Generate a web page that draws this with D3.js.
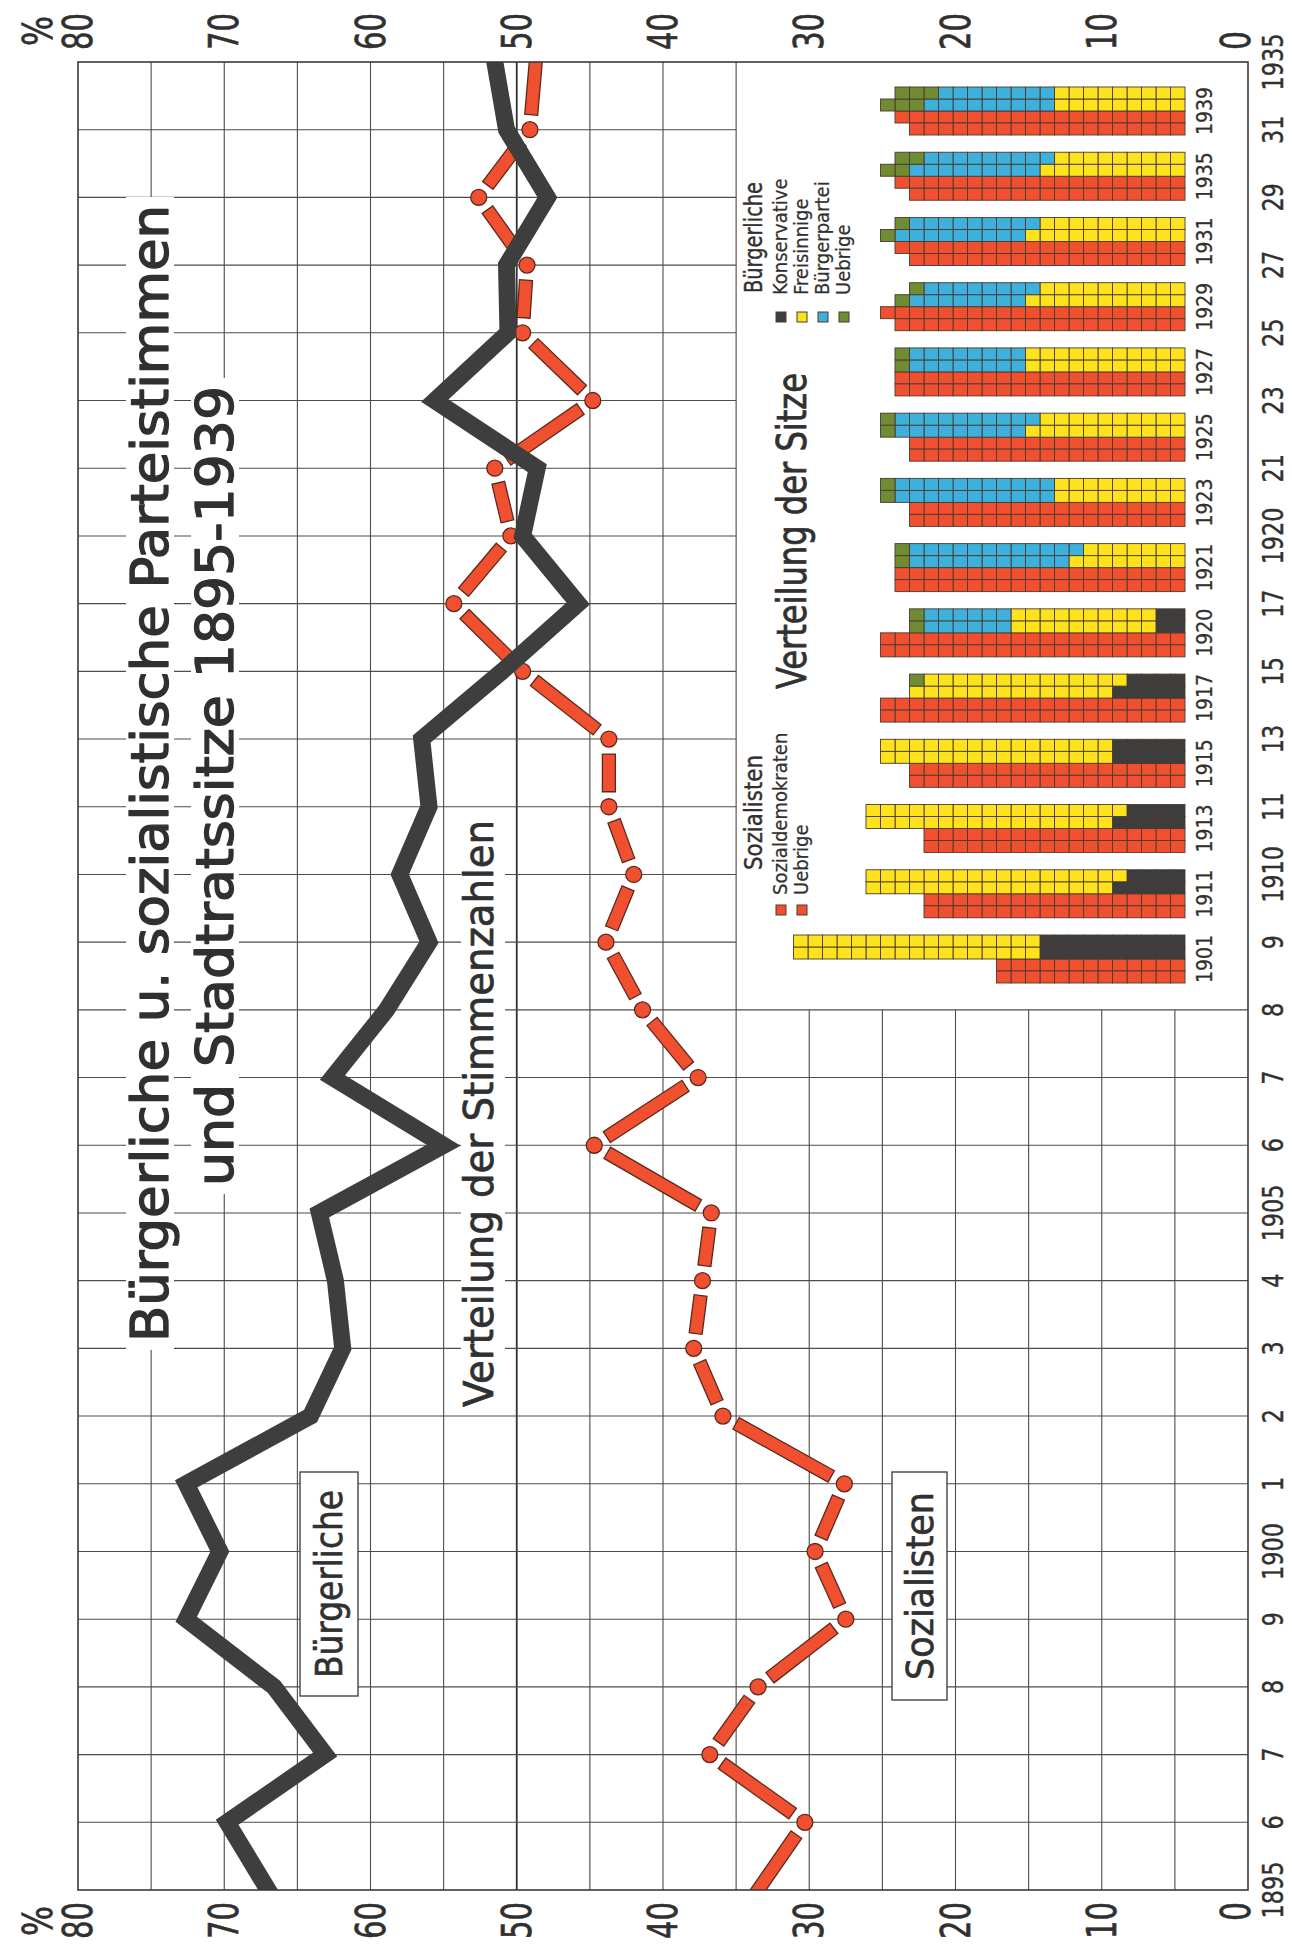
<!DOCTYPE html>
<html><head><meta charset="utf-8">
<script src="https://cdn.jsdelivr.net/npm/d3@7"></script>
<style>
html,body{margin:0;padding:0;background:#fff;}
svg{display:block;}
</style></head>
<body>
<svg id="chart" width="1292" height="1948"></svg>
<script>
// ---------- DATA ----------
const years = [1895,1896,1897,1898,1899,1900,1901,1902,1903,1904,1905,1906,1907,1908,1909,1910,1911,1913,1915,1917,1920,1921,1923,1925,1927,1929,1931,1935];
const yearLabels = ["1895","6","7","8","9","1900","1","2","3","4","1905","6","7","8","9","1910","11","13","15","17","1920","21","23","25","27","29","31","1935"];
const buergerlicheShare = [67.0,69.8,63.1,66.6,72.6,70.3,72.6,64.1,61.9,62.4,63.5,55.0,62.6,58.9,56.0,58.0,56.0,56.5,51.0,45.8,49.6,48.6,55.6,50.6,50.7,47.9,50.7,51.5];
const sozialistenShare = [33.5,30.3,36.8,33.5,27.5,29.6,27.6,35.9,37.9,37.3,36.7,44.7,37.6,41.4,43.9,42.0,43.7,43.7,49.6,54.3,50.4,51.5,44.8,49.6,49.3,52.6,49.1,48.7];
const percentTicks = [0,10,20,30,40,50,60,70,80];

const electionYears = [1901,1911,1913,1915,1917,1920,1921,1923,1925,1927,1929,1931,1935,1939];
const sozialistenSeats  = [26,36,36,38,42,42,40,38,38,40,41,39,39,39];
const konservativeSeats = [20, 9, 9,10, 9, 4, 0, 0, 0, 0, 0, 0, 0, 0];
const freisinnigeSeats  = [34,35,35,32,28,20,15,18,21,22,21,21,19,18];
const buergerparteiSeats= [ 0, 0, 0, 0, 0,12,23,22,19,16,16,18,18,17];
const uebrigeBSeats     = [ 0, 0, 0, 0, 1, 2, 2, 2, 2, 2, 2, 2, 4, 6];

const titleLines = ["Bürgerliche u. sozialistische Parteistimmen","und Stadtratssitze 1895-1939"];

// ---------- STYLE ----------
const FONT = "'DejaVu Sans Condensed','Liberation Sans Narrow','DejaVu Sans',sans-serif";
const INK = "#303030";
const C = {red:"#f0502f", yellow:"#fde21c", blue:"#3db1dc", green:"#6f8c33", kons:"#3d3d3d",
           cellStroke:"#4b3a30", line:"#3e3e3e", dashStroke:"#5c2a1c", grid:"#4f4b45"};

const svg = d3.select("#chart");
svg.append("rect").attr("width",1292).attr("height",1948).attr("fill","#fff");
// landscape drawing, rotated onto the portrait page
const g = svg.append("g").attr("transform","translate(0,1948) rotate(-90)");
g.style("font-family",FONT).style("font-stretch","condensed");

const x = d3.scalePoint().domain(years).range([58,1886]);
const y = d3.scaleLinear().domain([0,80]).range([1248,78]);
const X0 = x(years[0]), X1 = x(years[years.length-1]);

g.append("defs").append("clipPath").attr("id","plotClip")
  .append("rect").attr("x",X0).attr("y",y(80)).attr("width",X1-X0).attr("height",y(0)-y(80));

// ---------- GRID ----------
const grid = g.append("g").attr("stroke",C.grid).attr("stroke-width",1.1).attr("fill","none");
d3.range(5,80,5).forEach(v=>{
  grid.append("line").attr("x1",X0).attr("x2", v<35 ? x(1908) : X1)
    .attr("y1",y(v)).attr("y2",y(v))
    .attr("stroke-width", v===50 ? 1.8 : 1.1)
    .attr("stroke", v===50 ? "#333" : C.grid);
});
years.slice(1,-1).forEach(yr=>{
  grid.append("line").attr("x1",x(yr)).attr("x2",x(yr))
    .attr("y1",y(80)).attr("y2", yr>1908 ? y(35) : y(0));
});

// ---------- TEXT LABELS ----------
function label(txt,xx,yy,size,len,anchor,weight){
  const t = g.append("text").attr("x",xx).attr("y",yy).text(txt)
    .attr("font-size",size).attr("fill",INK).attr("text-anchor",anchor||"start");
  if(len) t.attr("textLength",len).attr("lengthAdjust","spacingAndGlyphs");
  if(weight) t.attr("stroke",INK).attr("stroke-width",weight).attr("stroke-linejoin","round");
  return t;
}
// white bands behind the title lines knock out the grid
[[606,168,1137],[762,233,800]].forEach(([tx,ty,tl])=>{
  g.append("rect").attr("x",tx-8).attr("y",ty-42).attr("width",tl+16).attr("height",48).attr("fill","#fff");
});
label(titleLines[0],606,168,52,1137,"start",1.3);
label(titleLines[1],762,233,52,800,"start",1.3);
g.append("rect").attr("x",533).attr("y",461).attr("width",603).attr("height",44).attr("fill","#fff");
label("Verteilung der Stimmenzahlen",541,493,40,587,"start",0.7);
label("Verteilung der Sitze",1259,806,40,316,"start",0.7);

// boxed series labels
[[ "Bürgerliche",252,300,224,58],[ "Sozialisten",248,892,228,55]].forEach(([t,bx,by,bw,bh])=>{
  g.append("rect").attr("x",bx).attr("y",by).attr("width",bw).attr("height",bh)
    .attr("fill","#fff").attr("stroke","#444").attr("stroke-width",1.4);
  label(t,bx+bw/2,by+bh/2+13,37,188,"middle",0.6);
});

// ---------- LINES ----------
const lines = g.append("g").attr("clip-path","url(#plotClip)");
const sozPts = years.map((yr,i)=>[x(yr),y(sozialistenShare[i])]);
function dashPoly(p0,p1,g0,g1,hw){
  const dx=p1[0]-p0[0], dy=p1[1]-p0[1], L=Math.hypot(dx,dy);
  const ux=dx/L, uy=dy/L, nx=-uy, ny=ux;
  const a=[p0[0]+ux*g0,p0[1]+uy*g0], b=[p1[0]-ux*g1,p1[1]-uy*g1];
  return [[a[0]+nx*hw,a[1]+ny*hw],[b[0]+nx*hw,b[1]+ny*hw],[b[0]-nx*hw,b[1]-ny*hw],[a[0]-nx*hw,a[1]-ny*hw]];
}
for(let i=0;i<sozPts.length-1;i++){
  const g0 = i===0 ? -14 : 15, g1 = i===sozPts.length-2 ? -14 : 15;
  lines.append("polygon").attr("points",dashPoly(sozPts[i],sozPts[i+1],g0,g1,6.5).map(p=>p.join(",")).join(" "))
    .attr("fill",C.red).attr("stroke",C.dashStroke).attr("stroke-width",1.3).attr("stroke-linejoin","miter");
}
sozPts.slice(1,-1).forEach(p=>{
  lines.append("circle").attr("cx",p[0]).attr("cy",p[1]).attr("r",8)
    .attr("fill",C.red).attr("stroke",C.dashStroke).attr("stroke-width",1.3);
});
const lineGen = d3.line().x((d,i)=>x(years[i])).y(d=>y(d));
lines.append("path").attr("d",lineGen(buergerlicheShare))
  .attr("fill","none").attr("stroke",C.line).attr("stroke-width",17)
  .attr("stroke-linejoin","miter").attr("stroke-miterlimit",10).attr("stroke-linecap","square");

// plot border
g.append("rect").attr("x",X0).attr("y",y(80)).attr("width",X1-X0).attr("height",y(0)-y(80))
  .attr("fill","none").attr("stroke","#3a3a3a").attr("stroke-width",1.6);

// ---------- AXIS LABELS ----------
percentTicks.forEach(v=>{
  const yy = v===0 ? y(0)+2 : y(v)+14;
  const len = String(v).length===1 ? 19 : 37;
  label(String(v),46,yy,41,len,"end",0.6);
  label(String(v),1898,yy,41,len,"start",0.6);
});
label("%",27,52,40,30,"middle",0.6);
label("%",1917,52,40,30,"middle",0.6);
years.forEach((yr,i)=>{
  label(yearLabels[i],x(yr),1283,29,yearLabels[i].length*14.2,"middle",0.4);
});

// ---------- SEAT BARS ----------
const xb = d3.scalePoint().domain(electionYears).range([989,1837]);
const col = d3.scaleLinear().domain([0,30]).range([1185,1185-30*14.5]);
const RW = 12;
const bars = g.append("g").attr("stroke",C.cellStroke).attr("stroke-width",0.9);
function cells(xc, side, parts){
  // side -1 = Sozialisten (left of centre), +1 = Bürgerliche (right of centre)
  let n = 0;
  parts.forEach(([count,color])=>{
    for(let s=0;s<count;s++,n++){
      const k = Math.floor(n/2), inner = n%2===0;
      const x0 = side<0 ? (inner ? xc-RW : xc-2*RW) : (inner ? xc : xc+RW);
      bars.append("rect").attr("x",x0).attr("y",col(k+1)).attr("width",RW).attr("height",col(k)-col(k+1))
        .attr("fill",color);
    }
  });
}
electionYears.forEach((yr,i)=>{
  const xc = xb(yr);
  cells(xc,-1,[[sozialistenSeats[i],C.red]]);
  cells(xc, 1,[[konservativeSeats[i],C.kons],[freisinnigeSeats[i],C.yellow],[buergerparteiSeats[i],C.blue],[uebrigeBSeats[i],C.green]]);
  label(String(yr),xc,1212,21,48,"middle",0.3);
});

// ---------- LEGENDS ----------
function legendItem(txt,sqX,txX,yy,color){
  g.append("rect").attr("x",sqX-5).attr("y",yy-11).attr("width",10).attr("height",10)
    .attr("fill",color).attr("stroke",C.cellStroke).attr("stroke-width",1);
  label(txt,txX,yy,20,null,"start",0.2);
}
label("Bürgerliche",1655,762,25,111,"start",0.4);
legendItem("Konservative",1631,1653,787,C.kons);
legendItem("Freisinnige",1631,1653,808,C.yellow);
legendItem("Bürgerpartei",1631,1653,829,C.blue);
legendItem("Uebrige",1631,1653,850,C.green);

label("Sozialisten",1078,762,25,115,"start",0.4);
legendItem("Sozialdemokraten",1038,1053,787,C.red);
legendItem("Uebrige",1038,1053,808,C.red);
</script>
</body></html>
